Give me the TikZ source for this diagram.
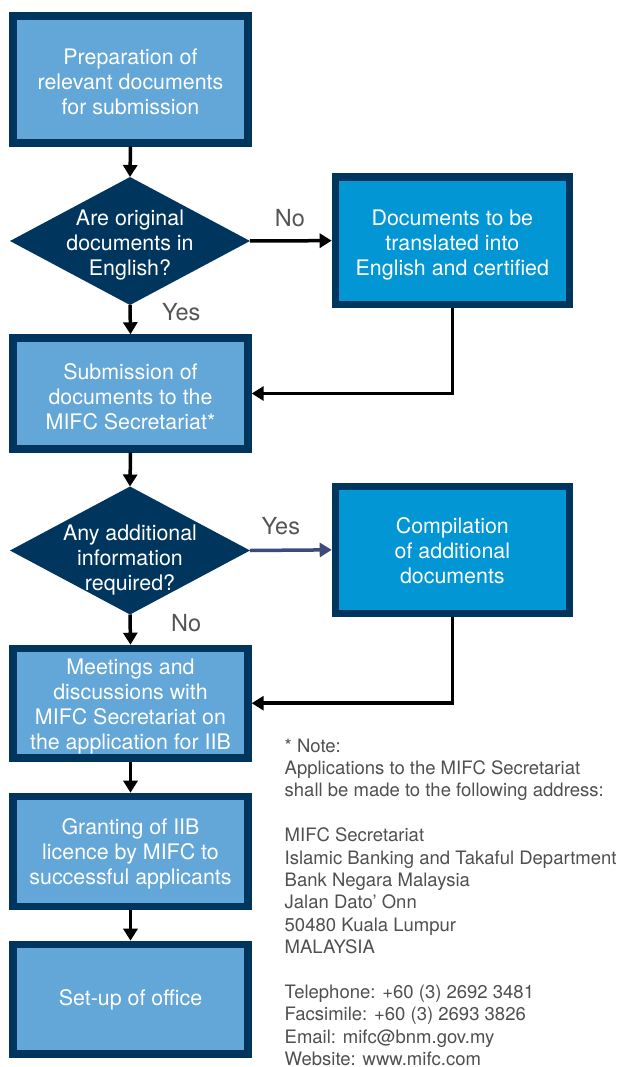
\documentclass[tikz,border=0pt]{standalone}
\usepackage{fontspec}
\setmainfont{TeX Gyre Heros}
\usetikzlibrary{shapes.geometric,arrows.meta}
\definecolor{navy}{RGB}{0,54,94}
\definecolor{lightbox}{RGB}{99,166,216}
\definecolor{brightbox}{RGB}{3,150,212}
\definecolor{lblgray}{RGB}{85,85,85}
\definecolor{notegray}{RGB}{80,80,80}
\definecolor{slate}{RGB}{62,74,122}
\begin{document}
\begin{tikzpicture}[x=1pt,y=-1pt,
  box/.style={draw=navy, line width=7.5pt, fill=lightbox, minimum width=234.9pt, inner sep=0pt},
  sidebox/.style={box, fill=brightbox, minimum width=233.8pt},
  dia/.style={diamond, fill=navy, draw=none, minimum width=240pt, minimum height=128pt,
    inner sep=0pt, outer sep=0pt},
  btxt/.style={text=white, align=center, font=\fontsize{21.4}{25}\selectfont, inner sep=0pt},
  arr/.style={line width=3.5pt, -{Triangle[length=12pt,width=14pt]}},
  lbl/.style={text=lblgray, font=\fontsize{23.5}{28}\selectfont, inner sep=0pt},
  note/.style={text=notegray, align=left, font=\fontsize{18.5}{22.4}\selectfont, inner sep=0pt}]
\useasboundingbox[fill=white] (0,0) rectangle (622,1067);

\node[box, minimum height=126.9pt] (b1) at (130.5,79.5) {};
\node[btxt] (b1t) at ([yshift=-2.5pt]b1.center) {Preparation of\\relevant documents\\for submission};
\node[dia] (d1) at (130,241) {};
\node[btxt] (d1t) at ([yshift=-4pt]d1.center) {Are original\\documents in\\English?};
\node[sidebox, minimum height=127.2pt] (b2) at (452.35,240.65) {};
\node[btxt] (b2t) at ([yshift=-4.5pt]b2.center) {Documents to be\\translated into\\English and certified};
\node[box, minimum height=110.9pt] (b3) at (130.5,393.5) {};
\node[btxt] (b3t) at ([yshift=-3pt]b3.center) {Submission of\\documents to the\\MIFC Secretariat*};
\node[dia] (d2) at (130,550.5) {};
\node[btxt] (d2t) at ([yshift=-10pt]d2.center) {Any additional\\information\\required?};
\node[sidebox, minimum height=126.8pt] (b4) at (452.35,549.85) {};
\node[btxt] (b4t) at ([yshift=-1pt]b4.center) {Compilation\\of additional\\documents};
\node[box, minimum height=109.5pt] (b5) at (130.5,703.2) {};
\node[btxt] (b5t) at ([yshift=-3pt]b5.center) {Meetings and\\discussions with\\MIFC Secretariat on\\the application for IIB};
\node[box, minimum height=109.8pt] (b6) at (130.5,851.35) {};
\node[btxt] (b6t) at ([yshift=-2pt]b6.center) {Granting of IIB\\licence by MIFC to\\successful applicants};
\node[box, minimum height=109.5pt] (b7) at (130.5,999.2) {};
\node[btxt] (b7t) at ([yshift=-1pt]b7.center) {Set-up of office};

\draw[arr] (b1.south) -- (d1.north);
\draw[arr] (d1.east) -- node[lbl, xshift=-1pt, yshift=23pt] (lno1) {No} (b2.west);
\draw[arr] (d1.south) -- node[lbl, xshift=51pt, yshift=7.6pt] (lyes1) {Yes} (b3.north);
\draw[arr] (b2.south) |- (b3.east);
\draw[arr] (b3.south) -- (d2.north);
\draw[arr, draw=slate, fill=slate] (d2.east) -- node[lbl, xshift=-10pt, yshift=24pt] (lyes2) {Yes} (b4.west);
\draw[arr] (d2.south) -- node[lbl, xshift=56pt, yshift=6pt] (lno2) {No} (b5.north);
\draw[arr] (b4.south) |- (b5.east);
\draw[arr] (b5.south) -- (b6.north);
\draw[arr] (b6.south) -- (b7.north);

\node[note, anchor=north west] (note) at (284.5,738.5) {* Note:\\Applications to the MIFC Secretariat\\shall be made to the following address:\\[22.4pt]MIFC Secretariat\\Islamic Banking and Takaful Department\\Bank Negara Malaysia\\Jalan Dato’ Onn\\50480 Kuala Lumpur\\MALAYSIA\\[22.4pt]Telephone: +60 (3) 2692 3481\\Facsimile: +60 (3) 2693 3826\\Email: mifc@bnm.gov.my\\Website: www.mifc.com};
\end{tikzpicture}
\end{document}
